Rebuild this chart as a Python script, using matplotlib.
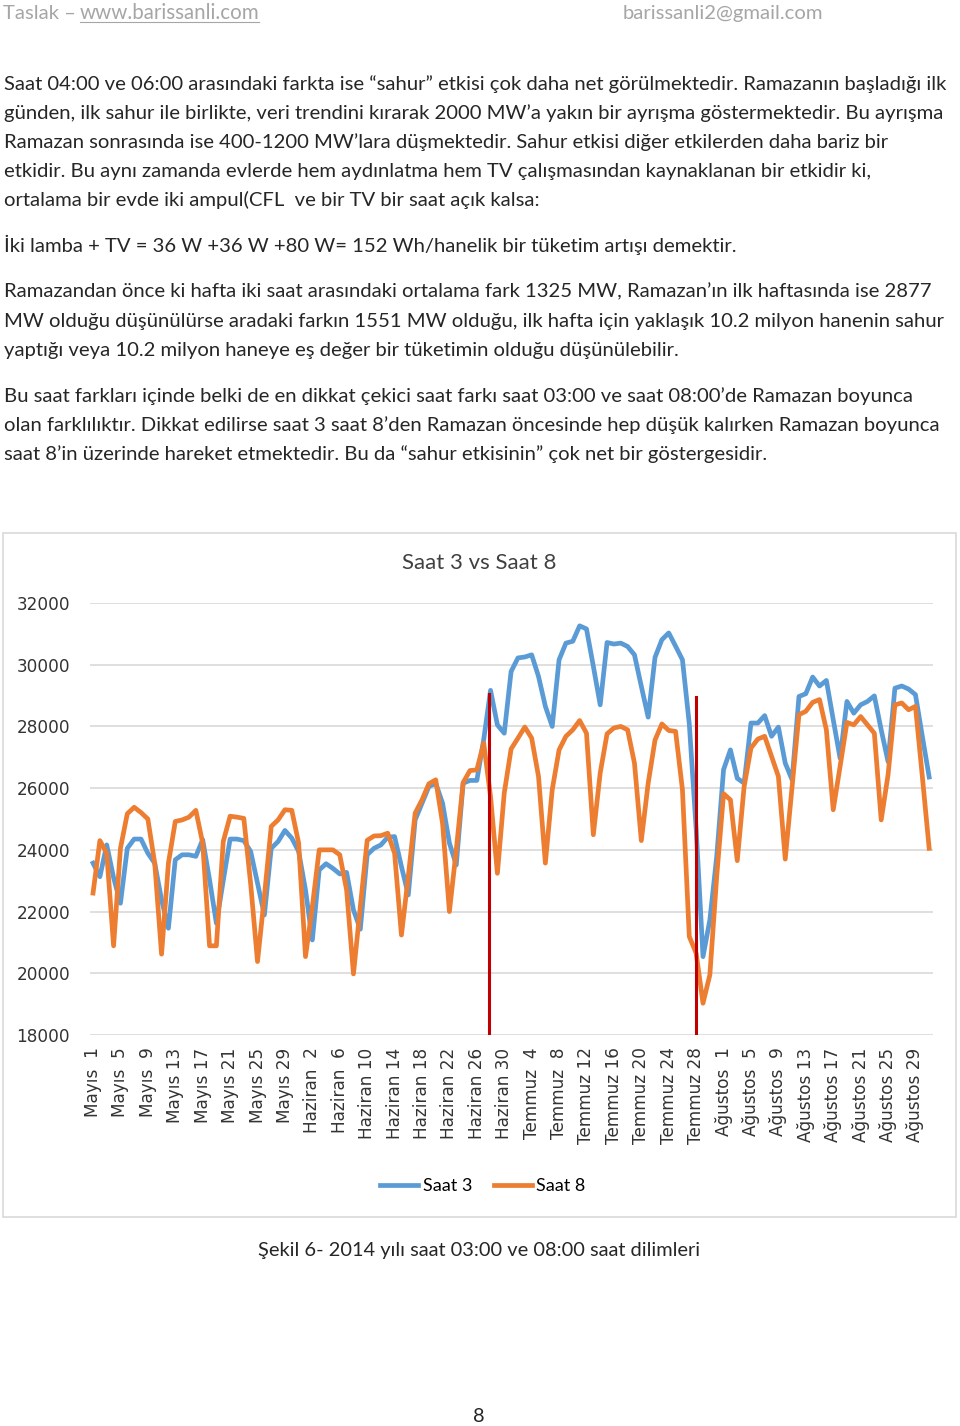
import matplotlib
matplotlib.use("Agg")
import matplotlib.pyplot as plt
from matplotlib.lines import Line2D
from matplotlib.patches import Rectangle

# ---- data (MW) ----
# 1 Mayıs 2014 .. 31 Ağustos 2014, one value per day
saat3 = [
    23570, 23130, 24160, 23100, 22270, 24050, 24350, 24350, 23890, 23570,
    22380, 21460, 23680, 23840, 23840, 23790, 24330, 23030, 21620, 23000,
    24350, 24350, 24300, 23950, 22920, 21890, 24050, 24270, 24630, 24380,
    23950, 22700, 21080, 23350, 23550, 23400, 23220, 23270, 22050, 21430,
    23840, 24050, 24160, 24410, 24430, 23460, 22540, 24970, 25510, 26050,
    26160, 25510, 24220, 23510, 26160, 26250, 26250, 27570, 29170, 28050,
    27780, 29780, 30220, 30250, 30320, 29620, 28650, 28000, 30160, 30700,
    30760, 31260, 31160, 29950, 28700, 30720, 30670, 30700, 30590, 30320,
    29300, 28300, 30240, 30810, 31030, 30600, 30160, 28080, 24680, 20540,
    21730, 23780, 26600, 27240, 26320, 26160, 28110, 28110, 28350, 27680,
    27980, 26810, 26270, 28970, 29060, 29600, 29310, 29490, 28220, 26970,
    28810, 28430, 28700, 28810, 28990, 27890, 26860, 29240, 29310, 29210,
    29030, 27680, 26360,
]
saat8 = [
    22600, 24300, 23890, 20890, 24050, 25170, 25380, 25210, 25000, 23570,
    20620, 23570, 24920, 24970, 25060, 25280, 24220, 20890, 20890, 24270,
    25090, 25060, 25020, 22900, 20380, 22490, 24760, 24970, 25300, 25280,
    24220, 20540, 22160, 24000, 24000, 24000, 23840, 22700, 19980, 22160,
    24310, 24450, 24460, 24540, 23890, 21240, 23140, 25190, 25620, 26140,
    26270, 24860, 22000, 24000, 26180, 26570, 26590, 27460, 25730, 23240,
    25840, 27270, 27620, 27980, 27620, 26380, 23570, 25950, 27240, 27680,
    27890, 28190, 27780, 24490, 26490, 27760, 27950, 28000, 27890, 26810,
    24300, 26160, 27560, 28080, 27870, 27840, 25950, 21190, 20650, 19030,
    19950, 23140, 25820, 25620, 23650, 26050, 27300, 27590, 27680, 27030,
    26380, 23700, 26050, 28380, 28490, 28780, 28870, 27890, 25300, 26700,
    28130, 28050, 28320, 28050, 27780, 24970, 26430, 28700, 28760, 28540,
    28650, 26380, 24050,
]
tick_labels = [
    "Mayıs  1", "Mayıs  5", "Mayıs  9", "Mayıs 13", "Mayıs 17", "Mayıs 21",
    "Mayıs 25", "Mayıs 29", "Haziran  2", "Haziran  6", "Haziran 10",
    "Haziran 14", "Haziran 18", "Haziran 22", "Haziran 26", "Haziran 30",
    "Temmuz  4", "Temmuz  8", "Temmuz 12", "Temmuz 16", "Temmuz 20",
    "Temmuz 24", "Temmuz 28", "Ağustos  1", "Ağustos  5", "Ağustos  9",
    "Ağustos 13", "Ağustos 17", "Ağustos 21", "Ağustos 25", "Ağustos 29",
]
yticks = [18000, 20000, 22000, 24000, 26000, 28000, 30000, 32000]
# ramazan start / end markers: (day index, top of line in MW)
ramazan_lines = [(57.8, 29050), (88.0, 28950)]

body = [
    (90, "Saat 04:00 ve 06:00 arasındaki farkta ise “sahur” etkisi çok daha net görülmektedir. Ramazanın başladığı ilk"),
    (119, "günden, ilk sahur ile birlikte, veri trendini kırarak 2000 MW’a yakın bir ayrışma göstermektedir. Bu ayrışma"),
    (148, "Ramazan sonrasında ise 400-1200 MW’lara düşmektedir. Sahur etkisi diğer etkilerden daha bariz bir"),
    (177, "etkidir. Bu aynı zamanda evlerde hem aydınlatma hem TV çalışmasından kaynaklanan bir etkidir ki,"),
    (206, "ortalama bir evde iki ampul(CFL  ve bir TV bir saat açık kalsa:"),
    (252, "İki lamba + TV = 36 W +36 W +80 W= 152 Wh/hanelik bir tüketim artışı demektir."),
    (297, "Ramazandan önce ki hafta iki saat arasındaki ortalama fark 1325 MW, Ramazan’ın ilk haftasında ise 2877"),
    (327, "MW olduğu düşünülürse aradaki farkın 1551 MW olduğu, ilk hafta için yaklaşık 10.2 milyon hanenin sahur"),
    (356, "yaptığı veya 10.2 milyon haneye eş değer bir tüketimin olduğu düşünülebilir."),
    (402, "Bu saat farkları içinde belki de en dikkat çekici saat farkı saat 03:00 ve saat 08:00’de Ramazan boyunca"),
    (431, "olan farklılıktır. Dikkat edilirse saat 3 saat 8’den Ramazan öncesinde hep düşük kalırken Ramazan boyunca"),
    (460, "saat 8’in üzerinde hareket etmektedir. Bu da “sahur etkisinin” çok net bir göstergesidir."),
]

W, H = 960, 1426
fig = plt.figure(figsize=(W / 100, H / 100), dpi=100)


def fx(x):
    return x / W


def fy(y):
    return 1 - y / H


BODY_FONT = ["Lato", "DejaVu Sans"]
CHART_FONT = ["DejaVu Sans"]

# header
grey = "#a6a6a6"
fig.text(fx(3), fy(19), "Taslak – ", fontsize=14.6, family=BODY_FONT, color=grey, va="baseline")
fig.text(fx(80), fy(19), "www.barissanli.com", fontsize=14.8, family=BODY_FONT, color=grey, va="baseline")
fig.add_artist(Line2D([fx(80), fx(259)], [fy(22), fy(22)], color=grey, lw=0.8))
fig.text(fx(623), fy(19), "barissanli2@gmail.com", fontsize=14.6, family=BODY_FONT, color=grey, va="baseline")

# body text
for yb, line in body:
    fig.text(fx(4), fy(yb), line, fontsize=14.6, family=BODY_FONT, color="#262626", va="baseline")

# chart frame
fig.add_artist(Rectangle((fx(3), fy(1217)), 953 / W, 684 / H, transform=fig.transFigure,
                         fill=False, edgecolor="#d9d9d9", lw=1.2))

ax = fig.add_axes([fx(89.6), fy(1035), (932.6 - 89.6) / W, 432 / H])
days = range(len(saat3))
ax.plot(days, saat3, color="#5b9bd5", lw=3.4, solid_joinstyle="round", label="Saat 3", zorder=3)
ax.plot(days, saat8, color="#ed7d31", lw=3.4, solid_joinstyle="round", label="Saat 8", zorder=3)
for xd, top in ramazan_lines:
    ax.plot([xd, xd], [yticks[0], top], color="#c00000", lw=2.2, zorder=4)

ax.set_xlim(-0.5, len(saat3) - 0.5)
ax.set_ylim(yticks[0], yticks[-1])
ax.set_yticks(yticks)
ax.set_yticklabels([str(v) for v in yticks], fontsize=12.2, family=CHART_FONT, color="#333333")
ax.set_xticks(range(0, len(saat3), 4))
ax.set_xticklabels(tick_labels, rotation=90, fontsize=12.2, family=CHART_FONT, color="#333333", va="top")
ax.tick_params(axis="both", length=0)
ax.tick_params(axis="y", pad=14)
ax.tick_params(axis="x", pad=9)
ax.yaxis.grid(True, color="#d9d9d9", lw=1.2)
ax.set_axisbelow(True)
for s in ax.spines.values():
    s.set_visible(False)

fig.text(fx(479), fy(563), "Saat 3 vs Saat 8", fontsize=16, family=BODY_FONT, color="#404040",
         ha="center", va="center")

ax.legend(loc="center", bbox_to_anchor=(fx(483), fy(1186)), bbox_transform=fig.transFigure,
          ncol=2, frameon=False, handlelength=2.1, handletextpad=0.25,
          columnspacing=1.2, prop={"family": BODY_FONT, "size": 13})

fig.text(fx(479), fy(1256), "Şekil 6- 2014 yılı saat 03:00 ve 08:00 saat dilimleri", fontsize=14.4,
         family=BODY_FONT, color="#262626", ha="center", va="baseline")
fig.text(fx(479), fy(1422), "8", fontsize=14.4, family=BODY_FONT, color="#262626", ha="center", va="baseline")

fig.savefig("out.png", dpi=100)
